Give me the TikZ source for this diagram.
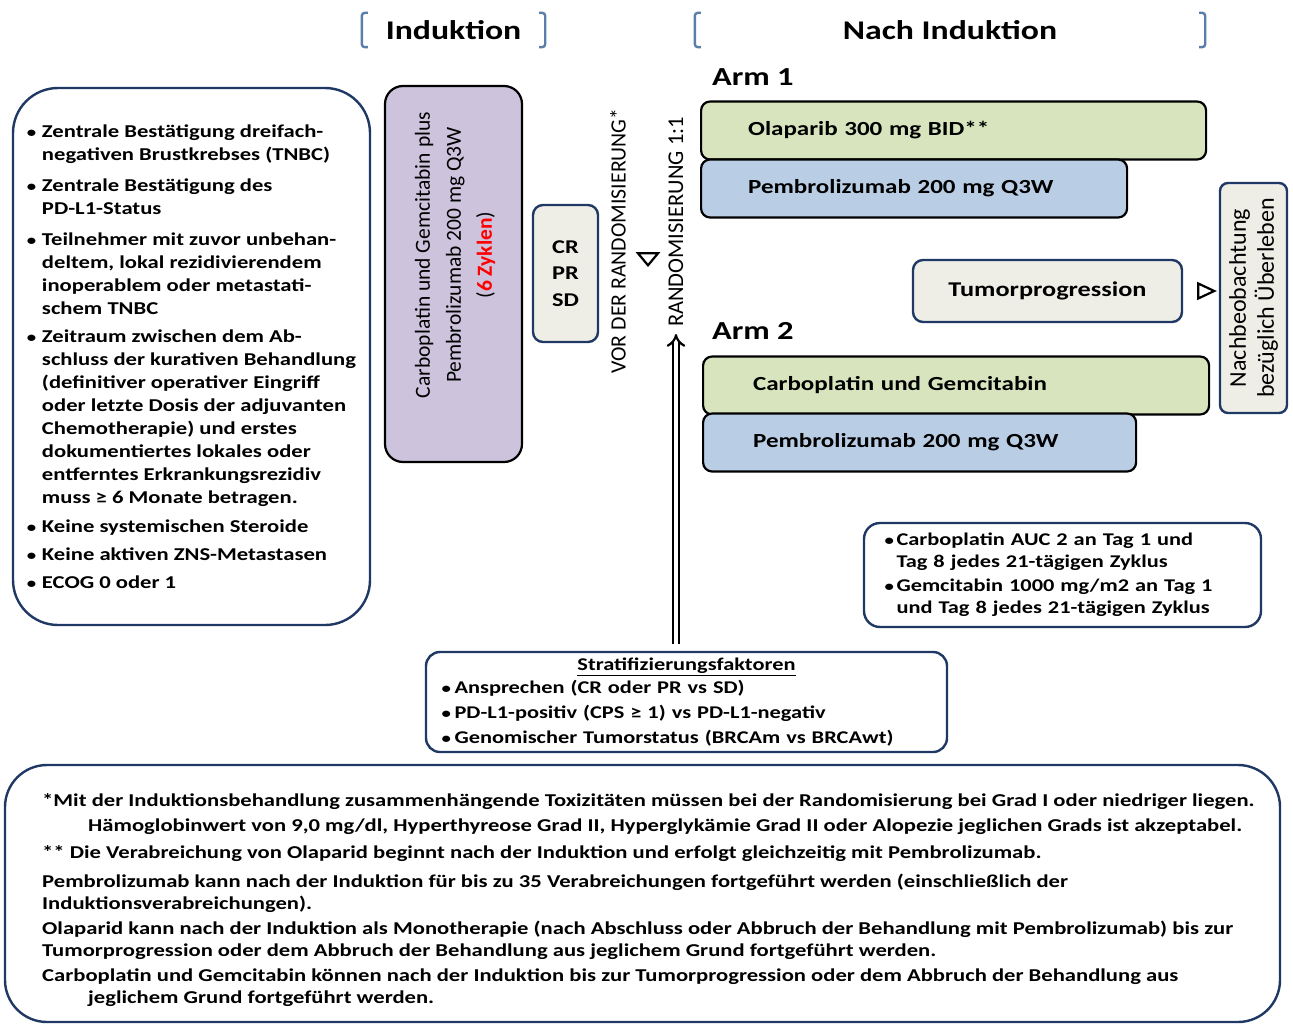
\documentclass[tikz,border=0pt]{standalone}
\usepackage{fontspec}
\setmainfont{Carlito}[FakeStretch=1.25]
\newfontfamily\rotfont{Carlito}
\usepackage{tikz}
\usetikzlibrary{positioning}
\usetikzlibrary{shapes.geometric}
\usetikzlibrary{arrows.meta}

\definecolor{navy}{HTML}{1F3864}
\definecolor{bracketblue}{HTML}{5B7FA8}
\definecolor{armgreen}{HTML}{D7E4BD}
\definecolor{armblue}{HTML}{B9CDE5}
\definecolor{indlila}{HTML}{CDC3DC}
\definecolor{beige}{HTML}{EFEEE6}

\newcommand{\bp}[1][15pt]{\makebox[#1][l]{\fontsize{15}{15}\selectfont•}}
\newcommand{\bi}[1][15pt]{\hspace*{#1}}

\tikzset{
  hdr/.style={font=\bfseries\fontsize{27}{30}\selectfont, minimum height=34pt, inner sep=0pt},
  brk/.style={draw=bracketblue, line width=2.4pt, rounded corners=3pt},
  navybox/.style={draw=navy, line width=2.4pt, rounded corners=#1},
  armlbl/.style={font=\bfseries\fontsize{26}{28}\selectfont, anchor=west, inner sep=0pt},
  armbox/.style={draw=black, line width=2.2pt, rounded corners=9pt, minimum height=58pt,
    inner xsep=47pt, align=left, anchor=west, font=\bfseries\fontsize{20}{24}\selectfont},
  vtext/.style={rotate=90, font=\rotfont\fontsize{21.8}{24}\selectfont, inner sep=3pt},
  tri/.style={isosceles triangle, isosceles triangle stretches, draw=black, line width=2.2pt,
    inner sep=0pt},
  dblarr/.style={double=white, double distance=4pt, line width=2.2pt, -{Implies[length=7pt, width=17pt]}}
}

\begin{document}
\begin{tikzpicture}[x=1pt, y=-1pt]
\useasboundingbox (0,0) rectangle (1293,1025);

\node[hdr, minimum width=183pt] (hdind) at (453.5,30) {Induktion};
\node[hdr, minimum width=510pt] (hdnach) at (950,30) {Nach Induktion};
\foreach \h in {hdind,hdnach}{
  \draw[brk] ([xshift=6pt]\h.north west) -- (\h.north west) -- (\h.south west) -- ([xshift=6pt]\h.south west);
  \draw[brk] ([xshift=-6pt]\h.north east) -- (\h.north east) -- (\h.south east) -- ([xshift=-6pt]\h.south east);
}

\node[navybox=45pt, minimum width=357pt, minimum height=537pt, align=left,
  font=\bfseries\fontsize{18.1}{23}\selectfont] (crit) at (191.5,356.5) {%
\bp Zentrale Bestätigung dreifach-\\
\bi negativen Brustkrebses (TNBC)\\[8pt]
\bp Zentrale Bestätigung des\\
\bi PD-L1-Status\\[8pt]
\bp Teilnehmer mit zuvor unbehan-\\
\bi deltem, lokal rezidivierendem\\
\bi inoperablem oder metastati-\\
\bi schem TNBC\\[5pt]
\bp Zeitraum zwischen dem Ab-\\
\bi schluss der kurativen Behandlung\\
\bi (definitiver operativer Eingriff\\
\bi oder letzte Dosis der adjuvanten\\
\bi Chemotherapie) und erstes\\
\bi dokumentiertes lokales oder\\
\bi entferntes Erkrankungsrezidiv\\
\bi muss ≥ 6 Monate betragen.\\[6pt]
\bp Keine systemischen Steroide\\[5pt]
\bp Keine aktiven ZNS-Metastasen\\[5pt]
\bp ECOG 0 oder 1};

\node[draw=black, line width=2.2pt, rounded corners=18pt, fill=indlila,
  minimum width=137pt, minimum height=376pt] (ind) at (453.5,274) {};
\node[vtext, align=center, font=\rotfont\fontsize{21.5}{31}\selectfont] (indtxt) at (455,255)
  {Carboplatin und Gemcitabin plus\\Pembrolizumab 200 mg Q3W\\(\textcolor{red}{\bfseries 6 Zyklen})};

\node[navybox=10pt, fill=beige, minimum width=65pt, minimum height=137pt, align=center,
  font=\bfseries\fontsize{19.5}{26.5}\selectfont] (resp) at (565.5,273.5) {CR\\PR\\SD};

\node[vtext] (vor) at (618,241) {VOR DER RANDOMISIERUNG*};
\node[tri, shape border rotate=-90, minimum width=20pt, minimum height=12pt] (tridown) at (648,258) {};
\node[vtext, font=\rotfont\fontsize{22.5}{24}\selectfont] (rand) at (676,222) {RANDOMISIERUNG 1:1};

\node[armlbl] (arm1) at (712,77) {Arm 1};
\node[armbox, fill=armgreen, text width=411pt] (olap) at (700,130.5) {Olaparib 300 mg BID**};
\node[armbox, fill=armblue, text width=332pt] (pem1) at (700,188.5) {Pembrolizumab 200 mg Q3W};

\node[navybox=10pt, fill=beige, minimum width=269pt, minimum height=62pt,
  font=\bfseries\fontsize{21}{24}\selectfont] (prog) at (1047.5,291) {Tumorprogression};
\node[tri, shape border rotate=0, minimum width=15pt, minimum height=16pt] (triright) at (1203,291) {};
\node[navybox=8pt, fill=beige, rotate=90, minimum width=230pt, minimum height=67pt, align=center,
  inner sep=2pt, font=\rotfont\fontsize{24}{28}\selectfont] (follow) at (1253.5,298)
  {Nachbeobachtung\\bezüglich Überleben};

\node[armlbl] (arm2) at (712,331) {Arm 2};
\node[armbox, fill=armgreen, text width=406pt, inner xsep=50pt] (carb) at (702,385.5) {Carboplatin und Gemcitabin};
\node[armbox, fill=armblue, text width=333pt, inner xsep=50pt] (pem2) at (702,442.5) {Pembrolizumab 200 mg Q3W};

\node[navybox=16pt, fill=white, minimum width=397pt, minimum height=104pt, text width=356pt,
  align=left, font=\bfseries\fontsize{17.9}{22}\selectfont] (dose) at (1062.5,575) {%
\bp[12pt]Carboplatin AUC 2 an Tag 1 und\\
\bi[12pt]Tag 8 jedes 21-tägigen Zyklus\\[2pt]
\bp[12pt]Gemcitabin 1000 mg/m2 an Tag 1\\
\bi[12pt]und Tag 8 jedes 21-tägigen Zyklus};

\node[navybox=14pt, minimum width=521pt, minimum height=100pt, text width=490pt, align=left,
  font=\bfseries\fontsize{17.9}{25}\selectfont] (strat) at (686.5,702) {%
\hfill\underline{Stratifizierungsfaktoren}\hfill\null\\[-2pt]
\bp[13pt]Ansprechen (CR oder PR vs SD)\\
\bp[13pt]PD-L1-positiv (CPS ≥ 1) vs PD-L1-negativ\\
\bp[13pt]Genomischer Tumorstatus (BRCAm vs BRCAwt)};

\draw[dblarr] ([yshift=7pt]strat.north -| rand.center) -- ([yshift=-4pt]rand.west);

\node[navybox=42pt, minimum width=1275pt, minimum height=257pt] (notes) at (642.5,893.5) {};
\node[anchor=north west, align=left, inner sep=0pt, font=\bfseries\fontsize{18.1}{21.5}\selectfont]
  (notestxt) at (42,793) {%
*Mit der Induktionsbehandlung zusammenhängende Toxizitäten müssen bei der Randomisierung bei Grad I oder niedriger liegen.\\[4pt]
\hspace*{46pt}Hämoglobinwert von 9,0 mg/dl, Hyperthyreose Grad II, Hyperglykämie Grad II oder Alopezie jeglichen Grads ist akzeptabel.\\[5pt]
** Die Verabreichung von Olaparid beginnt nach der Induktion und erfolgt gleichzeitig mit Pembrolizumab.\\[8pt]
Pembrolizumab kann nach der Induktion für bis zu 35 Verabreichungen fortgeführt werden (einschließlich der\\
Induktionsverabreichungen).\\[4pt]
Olaparid kann nach der Induktion als Monotherapie (nach Abschluss oder Abbruch der Behandlung mit Pembrolizumab) bis zur\\
Tumorprogression oder dem Abbruch der Behandlung aus jeglichem Grund fortgeführt werden.\\[4pt]
Carboplatin und Gemcitabin können nach der Induktion bis zur Tumorprogression oder dem Abbruch der Behandlung aus\\
\hspace*{46pt}jeglichem Grund fortgeführt werden.};
\end{tikzpicture}
\end{document}
